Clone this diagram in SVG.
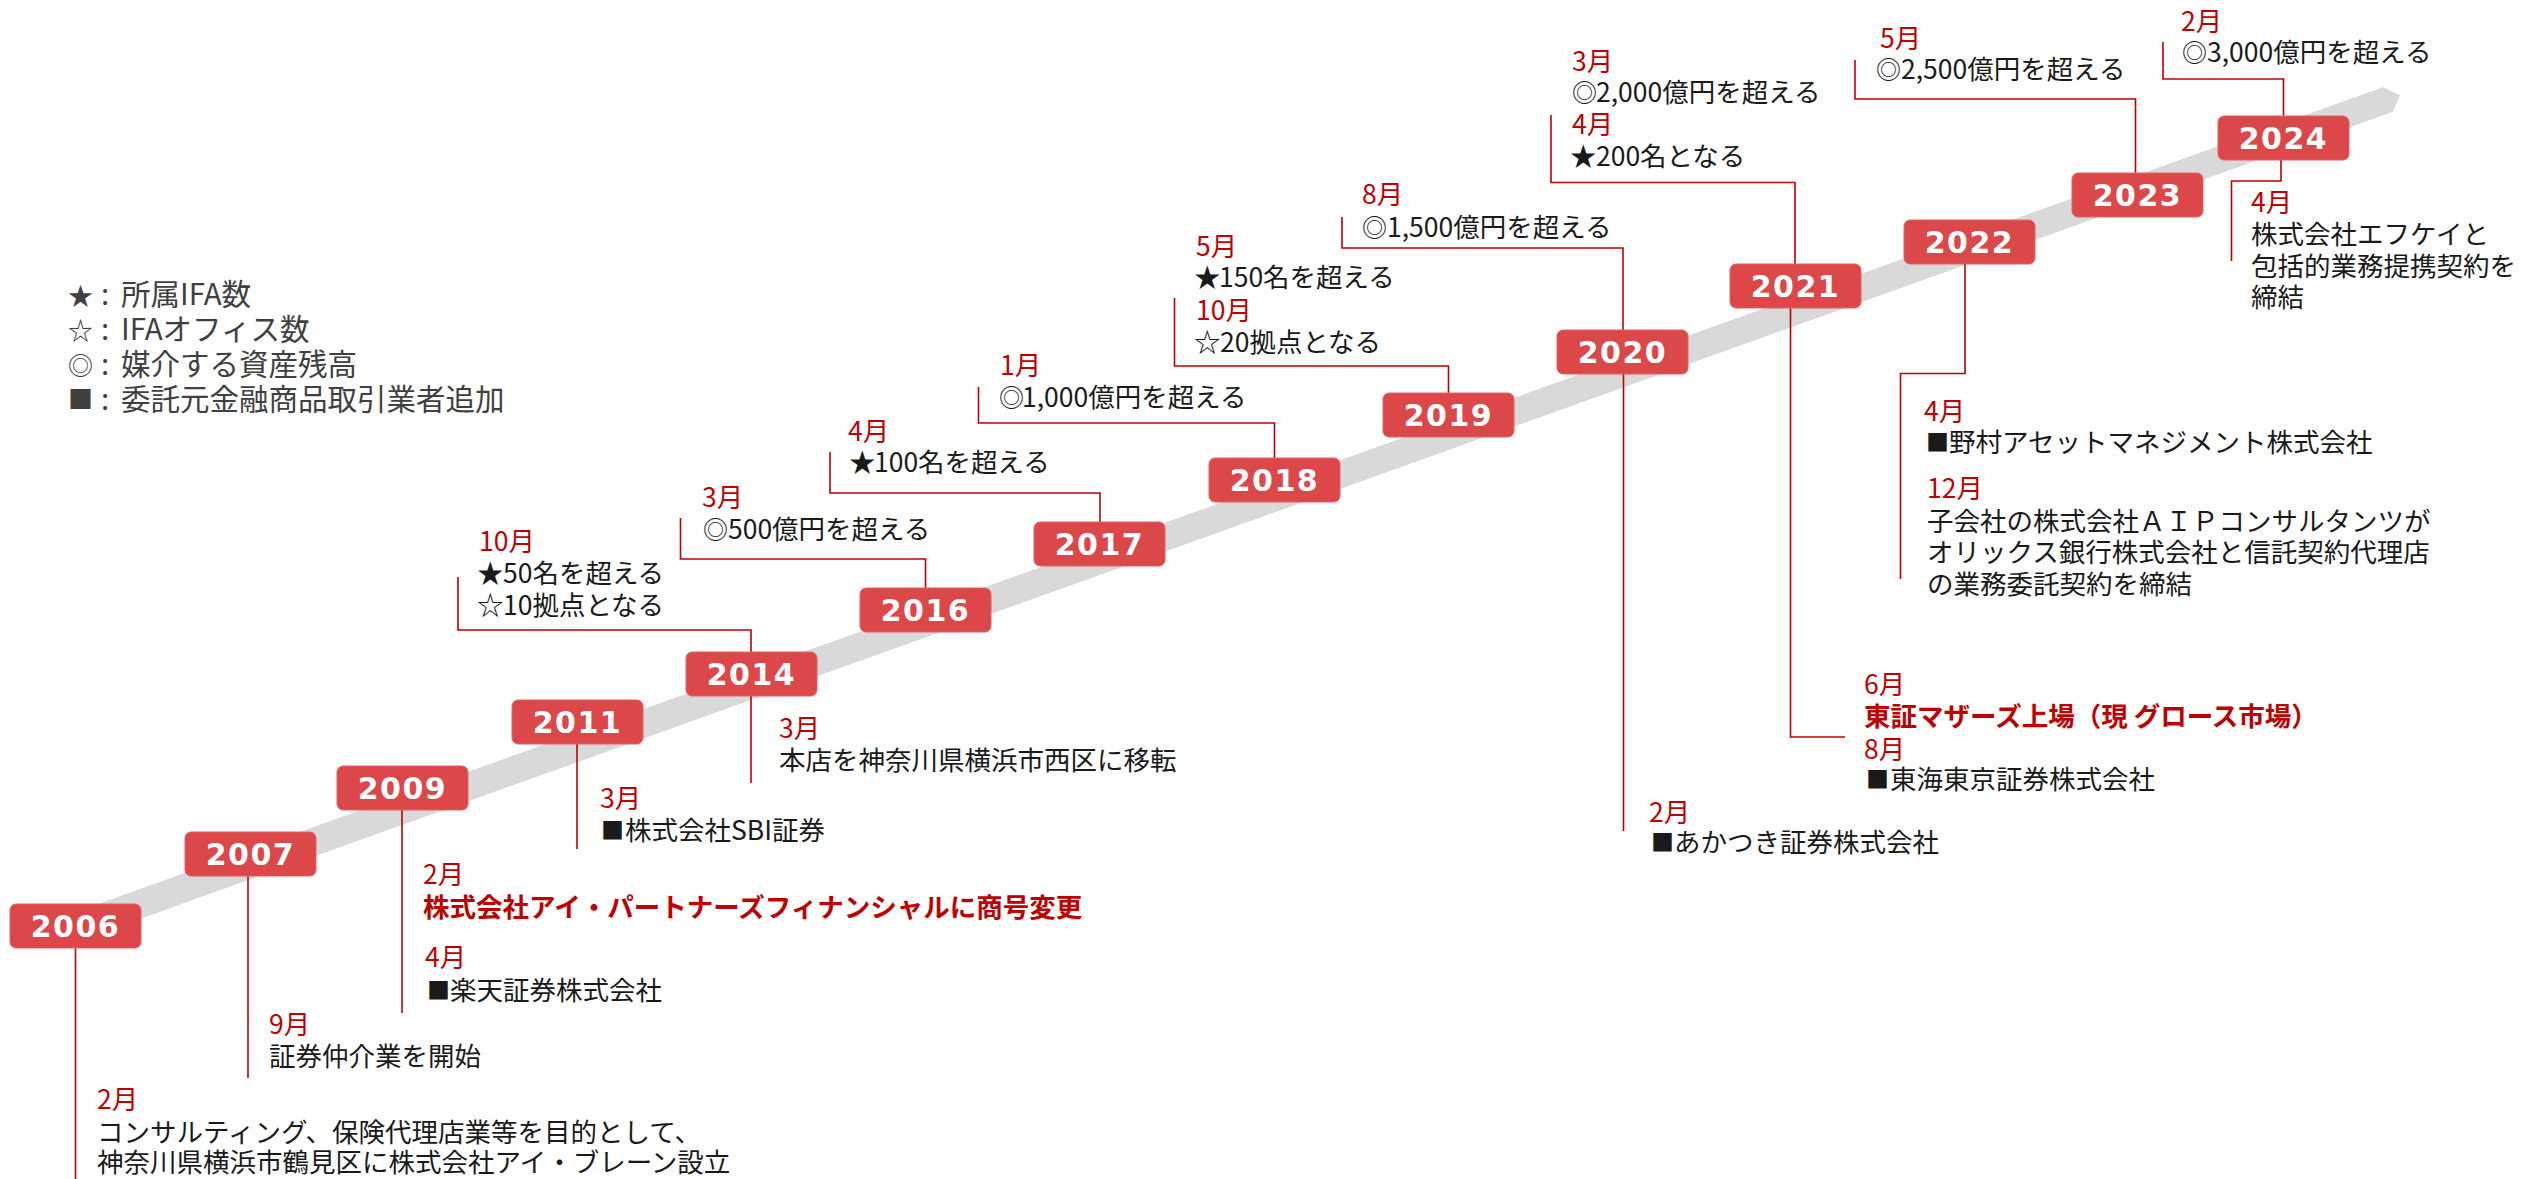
<svg xmlns="http://www.w3.org/2000/svg" width="2522" height="1179" viewBox="0 0 2522 1179">
<style>
.yr{fill:#DC4749;stroke:#E26467;stroke-width:1}
.yt{font-family:"DejaVu Sans","Noto Sans",sans-serif;font-weight:bold;font-size:30px;fill:#fff;text-anchor:middle;letter-spacing:1.5px}
.t{font-family:"Noto Sans CJK JP",sans-serif;font-size:26.5px;fill:#1a1a1a}
.m{fill:#C00000}
.b{font-weight:bold;fill:#C00000}
.lg{font-family:"Noto Sans CJK JP",sans-serif;font-size:29.5px;fill:#404040}
.ls{font-size:25px}
.cl{text-anchor:middle}
.st{font-size:26.5px}
.ci{font-size:25px}
.sq{font-size:23px}
.c{fill:none;stroke:#C00000;stroke-width:1.6}
</style>
<rect width="2522" height="1179" fill="#fff"/>
<polygon id="band" points="80,910.5 2383,87.3 2400,95 2393,111.7 80,940.4" fill="#D9D9D9"/>
<g id="connectors">
<path class="c" d="M75.5,948 V1179"/>
<path class="c" d="M248,876 V1078"/>
<path class="c" d="M402,810 V1013"/>
<path class="c" d="M577,744 V849"/>
<path class="c" d="M751,696 V783"/>
<path class="c" d="M751,652 V630 H458 V577"/>
<path class="c" d="M925.5,588 V559 H680.5 V518"/>
<path class="c" d="M1100,522 V493 H830 V452"/>
<path class="c" d="M1274.5,458 V423 H978.5 V387"/>
<path class="c" d="M1448.5,393 V366 H1174.5 V298"/>
<path class="c" d="M1623,330 V248 H1342 V217"/>
<path class="c" d="M1623.5,374 V831"/>
<path class="c" d="M1795,264 V182.5 H1551 V115"/>
<path class="c" d="M1790.5,308 V737 H1845"/>
<path class="c" d="M1965,264 V373.5 H1900.5 V579"/>
<path class="c" d="M2135.5,173 V99 H1855 V60"/>
<path class="c" d="M2283.5,116 V79 H2163 V42"/>
<path class="c" d="M2281,159 V181 H2231.5 V261"/>
</g>
<g id="y2006"><rect class="yr" x="10" y="904" width="131" height="44" rx="6"/><text class="yt" x="75.5" y="936.5">2006</text></g>
<g id="y2007"><rect class="yr" x="185" y="832" width="131" height="44" rx="6"/><text class="yt" x="250.5" y="864.5">2007</text></g>
<g id="y2009"><rect class="yr" x="337" y="766" width="131" height="44" rx="6"/><text class="yt" x="402.5" y="798.5">2009</text></g>
<g id="y2011"><rect class="yr" x="512" y="700" width="131" height="44" rx="6"/><text class="yt" x="577.5" y="732.5">2011</text></g>
<g id="y2014"><rect class="yr" x="686" y="652" width="131" height="44" rx="6"/><text class="yt" x="751.5" y="684.5">2014</text></g>
<g id="y2016"><rect class="yr" x="860" y="588" width="131" height="44" rx="6"/><text class="yt" x="925.5" y="620.5">2016</text></g>
<g id="y2017"><rect class="yr" x="1034" y="522" width="131" height="44" rx="6"/><text class="yt" x="1099.5" y="554.5">2017</text></g>
<g id="y2018"><rect class="yr" x="1209" y="458" width="131" height="44" rx="6"/><text class="yt" x="1274.5" y="490.5">2018</text></g>
<g id="y2019"><rect class="yr" x="1383" y="393" width="131" height="44" rx="6"/><text class="yt" x="1448.5" y="425.5">2019</text></g>
<g id="y2020"><rect class="yr" x="1557" y="330" width="131" height="44" rx="6"/><text class="yt" x="1622.5" y="362.5">2020</text></g>
<g id="y2021"><rect class="yr" x="1730" y="264" width="131" height="44" rx="6"/><text class="yt" x="1795.5" y="296.5">2021</text></g>
<g id="y2022"><rect class="yr" x="1904" y="220" width="131" height="44" rx="6"/><text class="yt" x="1969.5" y="252.5">2022</text></g>
<g id="y2023"><rect class="yr" x="2072" y="173" width="131" height="44" rx="6"/><text class="yt" x="2137.5" y="205.5">2023</text></g>
<g id="y2024"><rect class="yr" x="2218" y="116" width="131" height="44" rx="6"/><text class="yt" x="2283.5" y="148.5">2024</text></g>

<g id="legend" class="lg">
<text class="ls" x="68" y="305">★</text><text class="cl" x="105" y="305">:</text><text x="121" y="305">所属IFA数</text>
<text class="ls" x="68" y="340">☆</text><text class="cl" x="105" y="340">:</text><text x="121" y="340">IFAオフィス数</text>
<text class="ls" x="68" y="375">◎</text><text class="cl" x="105" y="375">:</text><text x="121" y="375">媒介する資産残高</text>
<text class="ls" x="68" y="409">■</text><text class="cl" x="105" y="410">:</text><text x="121" y="410">委託元金融商品取引業者追加</text>
</g>

<g id="ev2006" class="t">
<text class="m" x="97" y="1109">2月</text>
<text x="97" y="1142">コンサルティング、保険代理店業等を目的として、</text>
<text x="97" y="1172">神奈川県横浜市鶴見区に株式会社アイ・ブレーン設立</text>
</g>
<g id="ev2007" class="t">
<text class="m" x="269" y="1034">9月</text>
<text x="269" y="1066">証券仲介業を開始</text>
</g>
<g id="ev2009" class="t">
<text class="m" x="423" y="884">2月</text>
<text class="b" x="423" y="917">株式会社アイ・パートナーズフィナンシャルに商号変更</text>
<text class="m" x="425" y="967">4月</text>
<text x="427" y="999"><tspan class="sq">■</tspan><tspan x="450" y="1000">楽天証券株式会社</tspan></text>
</g>
<g id="ev2011" class="t">
<text class="m" x="600" y="808">3月</text>
<text x="601" y="839"><tspan class="sq">■</tspan><tspan x="625" y="840">株式会社SBI証券</tspan></text>
</g>
<g id="ev2014a" class="t">
<text class="m" x="779" y="738">3月</text>
<text x="779" y="770">本店を神奈川県横浜市西区に移転</text>
</g>
<g id="ev2014b" class="t">
<text class="m" x="479" y="551">10月</text>
<text x="477" y="583"><tspan class="st">★</tspan><tspan x="503" y="583">50名を超える</tspan></text>
<text x="477" y="615"><tspan class="st">☆</tspan><tspan x="503" y="615">10拠点となる</tspan></text>
</g>
<g id="ev2016" class="t">
<text class="m" x="702" y="507">3月</text>
<text x="703" y="539"><tspan class="ci">◎</tspan><tspan x="728" y="539">500億円を超える</tspan></text>
</g>
<g id="ev2017" class="t">
<text class="m" x="848" y="441">4月</text>
<text x="849" y="472"><tspan class="st">★</tspan><tspan x="874" y="472">100名を超える</tspan></text>
</g>
<g id="ev2018" class="t">
<text class="m" x="1000" y="375">1月</text>
<text x="999" y="407"><tspan class="ci">◎</tspan><tspan x="1022" y="407">1,000億円を超える</tspan></text>
</g>
<g id="ev2019" class="t">
<text class="m" x="1196" y="256">5月</text>
<text x="1194" y="287"><tspan class="st">★</tspan><tspan x="1219" y="287">150名を超える</tspan></text>
<text class="m" x="1196" y="320">10月</text>
<text x="1194" y="352"><tspan class="st">☆</tspan><tspan x="1220" y="352">20拠点となる</tspan></text>
</g>
<g id="ev2020a" class="t">
<text class="m" x="1362" y="204">8月</text>
<text x="1362" y="237"><tspan class="ci">◎</tspan><tspan x="1387" y="237">1,500億円を超える</tspan></text>
</g>
<g id="ev2020b" class="t">
<text class="m" x="1649" y="822">2月</text>
<text x="1651" y="851"><tspan class="sq">■</tspan><tspan x="1674" y="852">あかつき証券株式会社</tspan></text>
</g>
<g id="ev2021a" class="t">
<text class="m" x="1572" y="71">3月</text>
<text x="1572" y="102"><tspan class="ci">◎</tspan><tspan x="1596" y="102">2,000億円を超える</tspan></text>
<text class="m" x="1572" y="134">4月</text>
<text x="1570" y="166"><tspan class="st">★</tspan><tspan x="1596" y="166">200名となる</tspan></text>
</g>
<g id="ev2021b" class="t">
<text class="m" x="1864" y="694">6月</text>
<text class="b" x="1864" y="726">東証マザーズ上場（現 グロース市場）</text>
<text class="m" x="1864" y="759">8月</text>
<text x="1866" y="788"><tspan class="sq">■</tspan><tspan x="1890" y="789">東海東京証券株式会社</tspan></text>
</g>
<g id="ev2022" class="t">
<text class="m" x="1924" y="421">4月</text>
<text x="1926" y="451"><tspan class="sq">■</tspan><tspan x="1949" y="452">野村アセットマネジメント株式会社</tspan></text>
<text class="m" x="1927" y="498">12月</text>
<text x="1927" y="531">子会社の株式会社ＡＩＰコンサルタンツが</text>
<text x="1927" y="562">オリックス銀行株式会社と信託契約代理店</text>
<text x="1927" y="594">の業務委託契約を締結</text>
</g>
<g id="ev2023" class="t">
<text class="m" x="1880" y="48">5月</text>
<text x="1876" y="79"><tspan class="ci">◎</tspan><tspan x="1901" y="79">2,500億円を超える</tspan></text>
</g>
<g id="ev2024a" class="t">
<text class="m" x="2181" y="31">2月</text>
<text x="2182" y="62"><tspan class="ci">◎</tspan><tspan x="2207" y="62">3,000億円を超える</tspan></text>
</g>
<g id="ev2024b" class="t">
<text class="m" x="2251" y="212">4月</text>
<text x="2251" y="244">株式会社エフケイと</text>
<text x="2251" y="276">包括的業務提携契約を</text>
<text x="2251" y="307">締結</text>
</g>
</svg>
